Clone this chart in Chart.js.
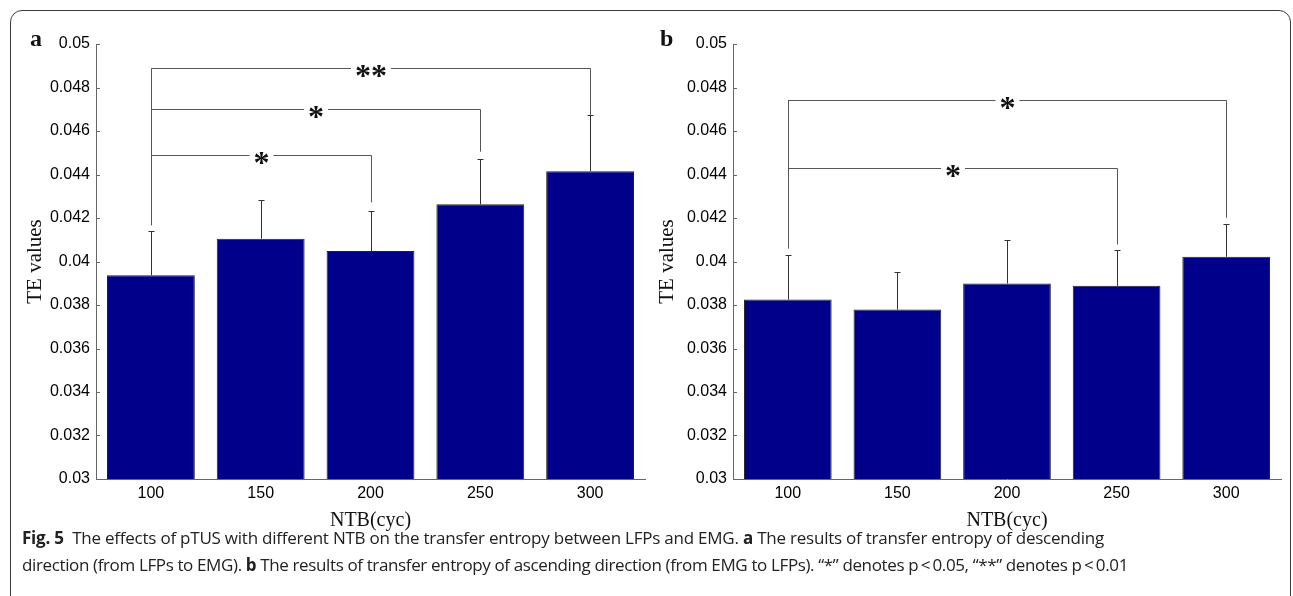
<!DOCTYPE html>
<html>
<head>
<meta charset="utf-8">
<title>Fig. 5 transfer entropy</title>
<script src="https://cdn.jsdelivr.net/npm/chart.js@4.4.1/dist/chart.umd.min.js"></script>
<style>
  html, body { margin: 0; padding: 0; background: #fff; }
  body { width: 1293px; height: 596px; position: relative; overflow: hidden; }
  .frame {
    position: absolute; left: 10px; top: 10px; width: 1281px; height: 640px;
    border: 1.5px solid #3c3c3c; border-radius: 12px; box-sizing: border-box;
  }
  .panel { position: absolute; top: 0; width: 660px; height: 533px; }
  .tag { position: absolute; font: bold 24px "Liberation Serif", "Times New Roman", serif; color: #111; line-height: 1; }
  .caption { position: absolute; left: 22px; font-size: 17px; font-family: "Open Sans", sans-serif; color: #222; white-space: nowrap; line-height: 1; }
</style>
</head>
<body>
<div class="frame"></div>
<div class="panel" style="left:0px"><canvas id="chartA"></canvas></div>
<div class="panel" style="left:637px"><canvas id="chartB"></canvas></div>
<div class="tag" style="left:30px; top:26px">a</div>
<div class="tag" style="left:660px; top:26px">b</div>
<div class="caption" id="cap1" style="top:529px" data-w="1082"><b>Fig. 5</b>&nbsp; The effects of pTUS with different NTB on the transfer entropy between LFPs and EMG. <b>a</b> The results of transfer entropy of descending</div>
<div class="caption" id="cap2" style="top:556px" data-w="1106">direction (from LFPs to EMG). <b>b</b> The results of transfer entropy of ascending direction (from EMG to LFPs). “*” denotes p&thinsp;&lt;&thinsp;0.05, “**” denotes p&thinsp;&lt;&thinsp;0.01</div>

<script>
// NTB categories (x axis)
const categories = ["100", "150", "200", "250", "300"];
const yTicks = [0.03, 0.032, 0.034, 0.036, 0.038, 0.04, 0.042, 0.044, 0.046, 0.048, 0.05];

// a: descending direction (LFPs -> EMG)
const teDescending = [0.03937, 0.04105, 0.04048, 0.04263, 0.04415];
const errDescending = [0.00205, 0.00180, 0.00186, 0.00210, 0.00260];

// b: ascending direction (EMG -> LFPs)
const teAscending = [0.03825, 0.03779, 0.03899, 0.03888, 0.04022];
const errAscending = [0.00207, 0.00175, 0.00201, 0.00164, 0.00152];

// significance brackets (category index from/to, bracket height, end heights, label)
const sigFromA = [0, 0, 0];
const sigToA = [4, 3, 2];
const sigLevelA = [0.04888, 0.04701, 0.04490];
const sigEndA = [0.04674, 0.04505, 0.04272];
const sigStartA = 0.04166;
const sigLabelA = ["**", "*", "*"];

const sigFromB = [0, 0];
const sigToB = [4, 3];
const sigLevelB = [0.04743, 0.04429];
const sigEndB = [0.04201, 0.04078];
const sigStartB = 0.04059;
const sigLabelB = ["*", "*"];

// squeeze caption lines to the width they take in the figure
document.querySelectorAll(".caption").forEach(el => {
  const target = Number(el.dataset.w);
  const chars = el.textContent.length;
  const w = el.getBoundingClientRect().width;
  el.style.letterSpacing = ((target - w) / chars) + "px";
});

// draws inward y ticks, upper error bars and significance brackets
const sigPlugin = {
  id: "sigMarks",
  afterDatasetsDraw(chart, args, opts) {
    const { ctx, scales: { x, y } } = chart;
    const values = chart.data.datasets[0].data;
    ctx.save();
    ctx.lineWidth = 1;

    ctx.strokeStyle = "#666";
    y.ticks.forEach(t => {
      const py = Math.round(y.getPixelForValue(t.value)) + 0.5;
      ctx.beginPath();
      ctx.moveTo(x.left, py);
      ctx.lineTo(x.left + 4, py);
      ctx.stroke();
    });

    ctx.strokeStyle = "#333";
    values.forEach((v, i) => {
      const px = Math.round(x.getPixelForValue(i)) + 0.5;
      const top = Math.round(y.getPixelForValue(v + opts.errors[i])) + 0.5;
      ctx.beginPath();
      ctx.moveTo(px, y.getPixelForValue(v));
      ctx.lineTo(px, top);
      ctx.moveTo(px - 3, top);
      ctx.lineTo(px + 3, top);
      ctx.stroke();
    });

    ctx.strokeStyle = "#555";
    ctx.fillStyle = "#111";
    ctx.font = 'bold 32px "Liberation Serif", serif';
    ctx.textAlign = "center";
    ctx.textBaseline = "alphabetic";

    // shared left leg
    const maxLevel = Math.max(...opts.levels);
    const lx = Math.round(x.getPixelForValue(opts.from[0])) + 0.5;
    ctx.beginPath();
    ctx.moveTo(lx, y.getPixelForValue(maxLevel));
    ctx.lineTo(lx, y.getPixelForValue(opts.start));
    ctx.stroke();

    opts.levels.forEach((lv, k) => {
      const x1 = Math.round(x.getPixelForValue(opts.from[k])) + 0.5;
      const x2 = Math.round(x.getPixelForValue(opts.to[k])) + 0.5;
      const py = Math.round(y.getPixelForValue(lv)) + 0.5;
      const mid = (x1 + x2) / 2;
      const w = ctx.measureText(opts.labels[k]).width;
      ctx.beginPath();
      ctx.moveTo(x1, py);
      ctx.lineTo(mid - w / 2 - 4, py);
      ctx.moveTo(mid + w / 2 + 4, py);
      ctx.lineTo(x2, py);
      ctx.lineTo(x2, y.getPixelForValue(opts.ends[k]));
      ctx.stroke();
      ctx.fillText(opts.labels[k], mid, py + 17);
    });
    ctx.restore();
  }
};

function buildChart(canvasId, values, sig, titlePad, padRight) {
  const ctx = document.getElementById(canvasId).getContext("2d");
  return new Chart(ctx, {
    type: "bar",
    data: {
      labels: categories,
      datasets: [{
        data: values,
        backgroundColor: "#00008B",
        borderColor: "#222",
        borderWidth: 1,
        barPercentage: 0.8,
        categoryPercentage: 1.0
      }]
    },
    options: {
      responsive: true,
      maintainAspectRatio: false,
      animation: false,
      layout: { padding: { top: 44, right: padRight, bottom: 0, left: 0 } },
      plugins: {
        legend: { display: false },
        tooltip: { enabled: false },
        sigMarks: sig
      },
      scales: {
        x: {
          offset: true,
          grid: { display: true, drawOnChartArea: false, drawTicks: false },
          border: { display: true, color: "#666", width: 1 },
          ticks: { color: "#000", padding: 5, font: { family: "Liberation Sans, Arial, sans-serif", size: 16 } },
          title: {
            display: true, text: "NTB(cyc)", color: "#111",
            font: { family: "Liberation Serif, Times New Roman, serif", size: 20 },
            padding: { top: 0, bottom: 0 }
          },
          afterFit: s => { s.height = 54; }
        },
        y: {
          min: 0.03,
          max: 0.05,
          afterBuildTicks: s => { s.ticks = yTicks.map(v => ({ value: v })); },
          grid: { display: true, drawOnChartArea: false, drawTicks: false },
          border: { display: true, color: "#666", width: 1 },
          ticks: {
            color: "#000", padding: 6,
            font: { family: "Liberation Sans, Arial, sans-serif", size: 16 },
            callback: v => String(parseFloat(v.toFixed(3)))
          },
          title: {
            display: true, text: "TE values", color: "#111",
            font: { family: "Liberation Serif, Times New Roman, serif", size: 21 },
            padding: { top: titlePad, bottom: 0 }
          },
          afterFit: s => { s.width = 96; }
        }
      }
    },
    plugins: [sigPlugin]
  });
}

buildChart("chartA", teDescending, {
  errors: errDescending, from: sigFromA, to: sigToA, levels: sigLevelA,
  ends: sigEndA, start: sigStartA, labels: sigLabelA
}, 23, 15);

buildChart("chartB", teAscending, {
  errors: errAscending, from: sigFromB, to: sigToB, levels: sigLevelB,
  ends: sigEndB, start: sigStartB, labels: sigLabelB
}, 18, 16);
</script>
</body>
</html>
